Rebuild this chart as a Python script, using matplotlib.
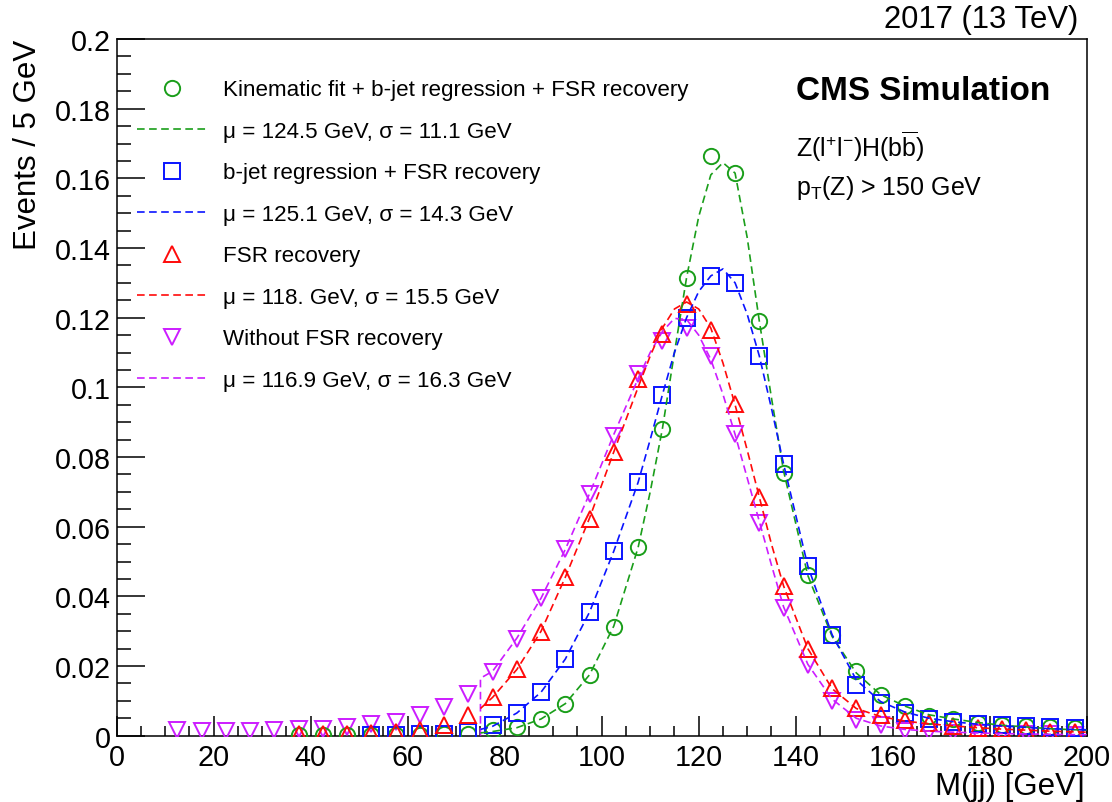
#!/usr/bin/env python3

import numpy as np
import matplotlib
matplotlib.use("Agg")
import matplotlib.pyplot as plt
from matplotlib.ticker import MultipleLocator, FuncFormatter

plt.rcParams['font.family'] = ['Liberation Sans', 'DejaVu Sans']
plt.rcParams['mathtext.fontset'] = 'custom'
plt.rcParams['mathtext.rm'] = 'Liberation Sans'
plt.rcParams['mathtext.it'] = 'Liberation Sans:italic'
plt.rcParams['lines.scale_dashes'] = False

# --- binned dijet mass distributions (bin centres in GeV, 5 GeV bins) ---
x_kinfit = np.arange(37.5, 200, 5)
y_kinfit = [0.0002, 0.0002, 0.0003, 0.0003, 0.0003, 0.0003, 0.0004, 0.0006,
            0.0015, 0.0025, 0.0049, 0.009, 0.0173, 0.0313, 0.0542, 0.088,
            0.1315, 0.1663, 0.1615, 0.119, 0.0755, 0.046, 0.029, 0.0186,
            0.0118, 0.0086, 0.0057, 0.0049, 0.0037, 0.003, 0.0028, 0.0024,
            0.0021]

x_breg = np.arange(52.5, 200, 5)
y_breg = [0.0002, 0.0003, 0.0004, 0.0006, 0.0011, 0.003, 0.0065, 0.0125,
          0.0221, 0.0354, 0.0531, 0.0727, 0.0978, 0.12, 0.1319, 0.130,
          0.109, 0.078, 0.0487, 0.029, 0.0146, 0.0095, 0.0066, 0.0049,
          0.004, 0.0035, 0.003, 0.0028, 0.0025, 0.0022]

x_fsr = np.arange(37.5, 200, 5)
y_fsr = [0.0005, 0.0005, 0.0006, 0.0008, 0.0011, 0.0016, 0.003, 0.0058,
         0.0111, 0.0192, 0.0299, 0.0455, 0.0622, 0.0813, 0.1023, 0.1152,
         0.1238, 0.1166, 0.0951, 0.0684, 0.043, 0.025, 0.0137, 0.008,
         0.006, 0.0046, 0.0037, 0.0028, 0.0022, 0.0018, 0.0015, 0.0012,
         0.001]

x_nofsr = np.arange(12.5, 200, 5)
y_nofsr = [0.0015, 0.0013, 0.0013, 0.0014, 0.0016, 0.0019, 0.002, 0.0026,
           0.0033, 0.004, 0.0058, 0.0082, 0.012, 0.0183, 0.0277, 0.0395,
           0.0536, 0.0693, 0.086, 0.1037, 0.1133, 0.1171, 0.109, 0.0865,
           0.0612, 0.0367, 0.0203, 0.010, 0.0046, 0.003, 0.0014, 0.001,
           0.0008, 0.0007, 0.0006, 0.0005, 0.0004, 0.0003]

# --- fitted curves, sampled along the fit range ---
fit_x = [75, 77.5, 82.5, 87.5, 92.5, 97.5, 102.5, 107.5, 110, 112.5, 115,
         117.5, 120, 122.5, 125, 127.5, 130, 132.5, 135, 137.5, 142.5, 147.5,
         152.5, 157.5, 162.5, 167.5, 172.5, 177.5, 182.5, 187.5, 192.5,
         197.5, 200]
fit_kinfit = [0.0008, 0.0012, 0.0023, 0.0048, 0.0092, 0.0175, 0.0315, 0.054,
              0.07, 0.088, 0.11, 0.1315, 0.149, 0.161, 0.1645, 0.1615, 0.143,
              0.119, 0.097, 0.076, 0.046, 0.0285, 0.018, 0.0118, 0.0085,
              0.006, 0.0048, 0.0038, 0.003, 0.0025, 0.002, 0.0017, 0.0016]
fit_breg = [0.0018, 0.0027, 0.0065, 0.0125, 0.022, 0.0355, 0.053, 0.0727,
            0.085, 0.0978, 0.110, 0.12, 0.1275, 0.132, 0.134, 0.130, 0.121,
            0.109, 0.094, 0.078, 0.0487, 0.029, 0.016, 0.0098, 0.0068,
            0.005, 0.004, 0.0033, 0.0028, 0.0024, 0.002, 0.0018, 0.0017]
fit_fsr = [0.0078, 0.011, 0.019, 0.030, 0.0455, 0.0625, 0.0815, 0.1, 0.109,
           0.117, 0.1225, 0.1245, 0.1225, 0.117, 0.107, 0.095, 0.082, 0.0685,
           0.055, 0.043, 0.025, 0.0135, 0.0078, 0.0055, 0.0042, 0.0034,
           0.0028, 0.0023, 0.0019, 0.0016, 0.0013, 0.0011, 0.001]
fit_nofsr = [0.0165, 0.0185, 0.028, 0.0395, 0.0535, 0.0695, 0.0865, 0.1025,
             0.11, 0.116, 0.1198, 0.1195, 0.115, 0.108, 0.098, 0.0865, 0.074,
             0.0615, 0.049, 0.037, 0.0205, 0.0105, 0.005, 0.0028, 0.0018,
             0.0013, 0.001, 0.0008, 0.0006, 0.0005, 0.0004, 0.0003, 0.0003]

labels = ["Kinematic fit + b-jet regression + FSR recovery",
          "b-jet regression + FSR recovery",
          "FSR recovery",
          "Without FSR recovery"]
fit_labels = ["\u03bc = 124.5 GeV, \u03c3 = 11.1 GeV",
              "\u03bc = 125.1 GeV, \u03c3 = 14.3 GeV",
              "\u03bc = 118. GeV, \u03c3 = 15.5 GeV",
              "\u03bc = 116.9 GeV, \u03c3 = 16.3 GeV"]

GREEN = "#1a9e1a"
BLUE = "#0a14ff"
RED = "#ff0a0a"
VIOLET = "#cc1cff"

W, H = 1112, 803
fig = plt.figure(figsize=(W / 100, H / 100), dpi=100)
ax = fig.add_axes([116.7 / W, 1 - 736.7 / H, 970 / W, 696.7 / H])

dash = (0, (5.5, 3.2))
mk = dict(linestyle="none", markerfacecolor="none", markeredgewidth=1.4)

series = [
    # x, y, fit x, fit y, colour, marker, size
    (x_nofsr, y_nofsr, [75] + fit_x, [0.0] + fit_nofsr, VIOLET, "v", 12),
    (x_kinfit, y_kinfit, fit_x, fit_kinfit, GREEN, "o", 11),
    (x_breg, y_breg, fit_x, fit_breg, BLUE, "s", 11),
    (x_fsr, y_fsr, fit_x, fit_fsr, RED, "^", 12),
]
for i, (xs, ys, fx, fy, col, m, ms) in enumerate(series):
    ax.plot(xs, ys, marker=m, ms=ms, color=col, zorder=3 + i, **mk)
    ax.plot(fx, fy, color=col, lw=1.2, linestyle=dash, zorder=8)

ax.set_xlim(0, 200)
ax.set_ylim(0, 0.2)

ax.xaxis.set_major_locator(MultipleLocator(20))
ax.xaxis.set_minor_locator(MultipleLocator(5))
ax.yaxis.set_major_locator(MultipleLocator(0.02))
ax.yaxis.set_minor_locator(MultipleLocator(0.005))
ax.yaxis.set_major_formatter(FuncFormatter(lambda v, p: f"{v:.2f}".rstrip("0").rstrip(".") if v else "0"))

ax.tick_params(axis="both", which="both", direction="in", top=False, right=False,
               width=1.1, labelsize=20.7)
ax.tick_params(axis="y", which="major", length=20, pad=4)
ax.tick_params(axis="y", which="minor", length=10)
ax.tick_params(axis="x", which="major", length=14.4, pad=5)
ax.tick_params(axis="x", which="minor", length=7.2)
for sp in ax.spines.values():
    sp.set_linewidth(1.1)

# axis titles
fig.text(1085 / W, 1 - 787 / H, "M(jj) [GeV]", ha="right", va="center", fontsize=22.5)
fig.text(28 / W, 1 - 40 / H, "Events / 5 GeV", ha="center", va="top", rotation=90,
         fontsize=22.5)

# legend, drawn entry by entry
def ax_y(py):
    return (736.7 - py) / 696.7

leg = [(GREEN, "o", 11), (BLUE, "s", 11), (RED, "^", 12), (VIOLET, "v", 12)]
for i, (col, m, ms) in enumerate(leg):
    base1 = 96 + 83 * i
    base2 = base1 + 41.5
    ax.plot([(172 - 116.7) / 970], [ax_y(base1 - 7.5)], marker=m, ms=ms, color=col,
            transform=ax.transAxes, clip_on=False, **mk)
    ax.plot([(137 - 116.7) / 970, (207 - 116.7) / 970], [ax_y(base2 - 8)] * 2,
            color=col, lw=1.2, linestyle=dash, transform=ax.transAxes, clip_on=False)
    ax.text((223 - 116.7) / 970, ax_y(base1), labels[i], transform=ax.transAxes,
            ha="left", va="baseline", fontsize=16.1)
    ax.text((223 - 116.7) / 970, ax_y(base2), fit_labels[i], transform=ax.transAxes,
            ha="left", va="baseline", fontsize=16.1)

# labels in the upper right
fig.text(1078 / W, 1 - 28 / H, "2017 (13 TeV)", ha="right", va="baseline", fontsize=22.3)
fig.text(796 / W, 1 - 100 / H, "CMS Simulation", ha="left", va="baseline",
         fontsize=24, fontweight="bold")
fig.text(796 / W, 1 - 157 / H, r"Z(l$^{+}$l$^{-}$)H(b$\overline{\mathrm{b}}$)", ha="left",
         va="baseline", fontsize=18)
fig.text(796 / W, 1 - 195 / H, r"p$_{\mathrm{T}}$(Z) > 150 GeV", ha="left",
         va="baseline", fontsize=18)

fig.savefig("out.png", dpi=100, facecolor="white")
